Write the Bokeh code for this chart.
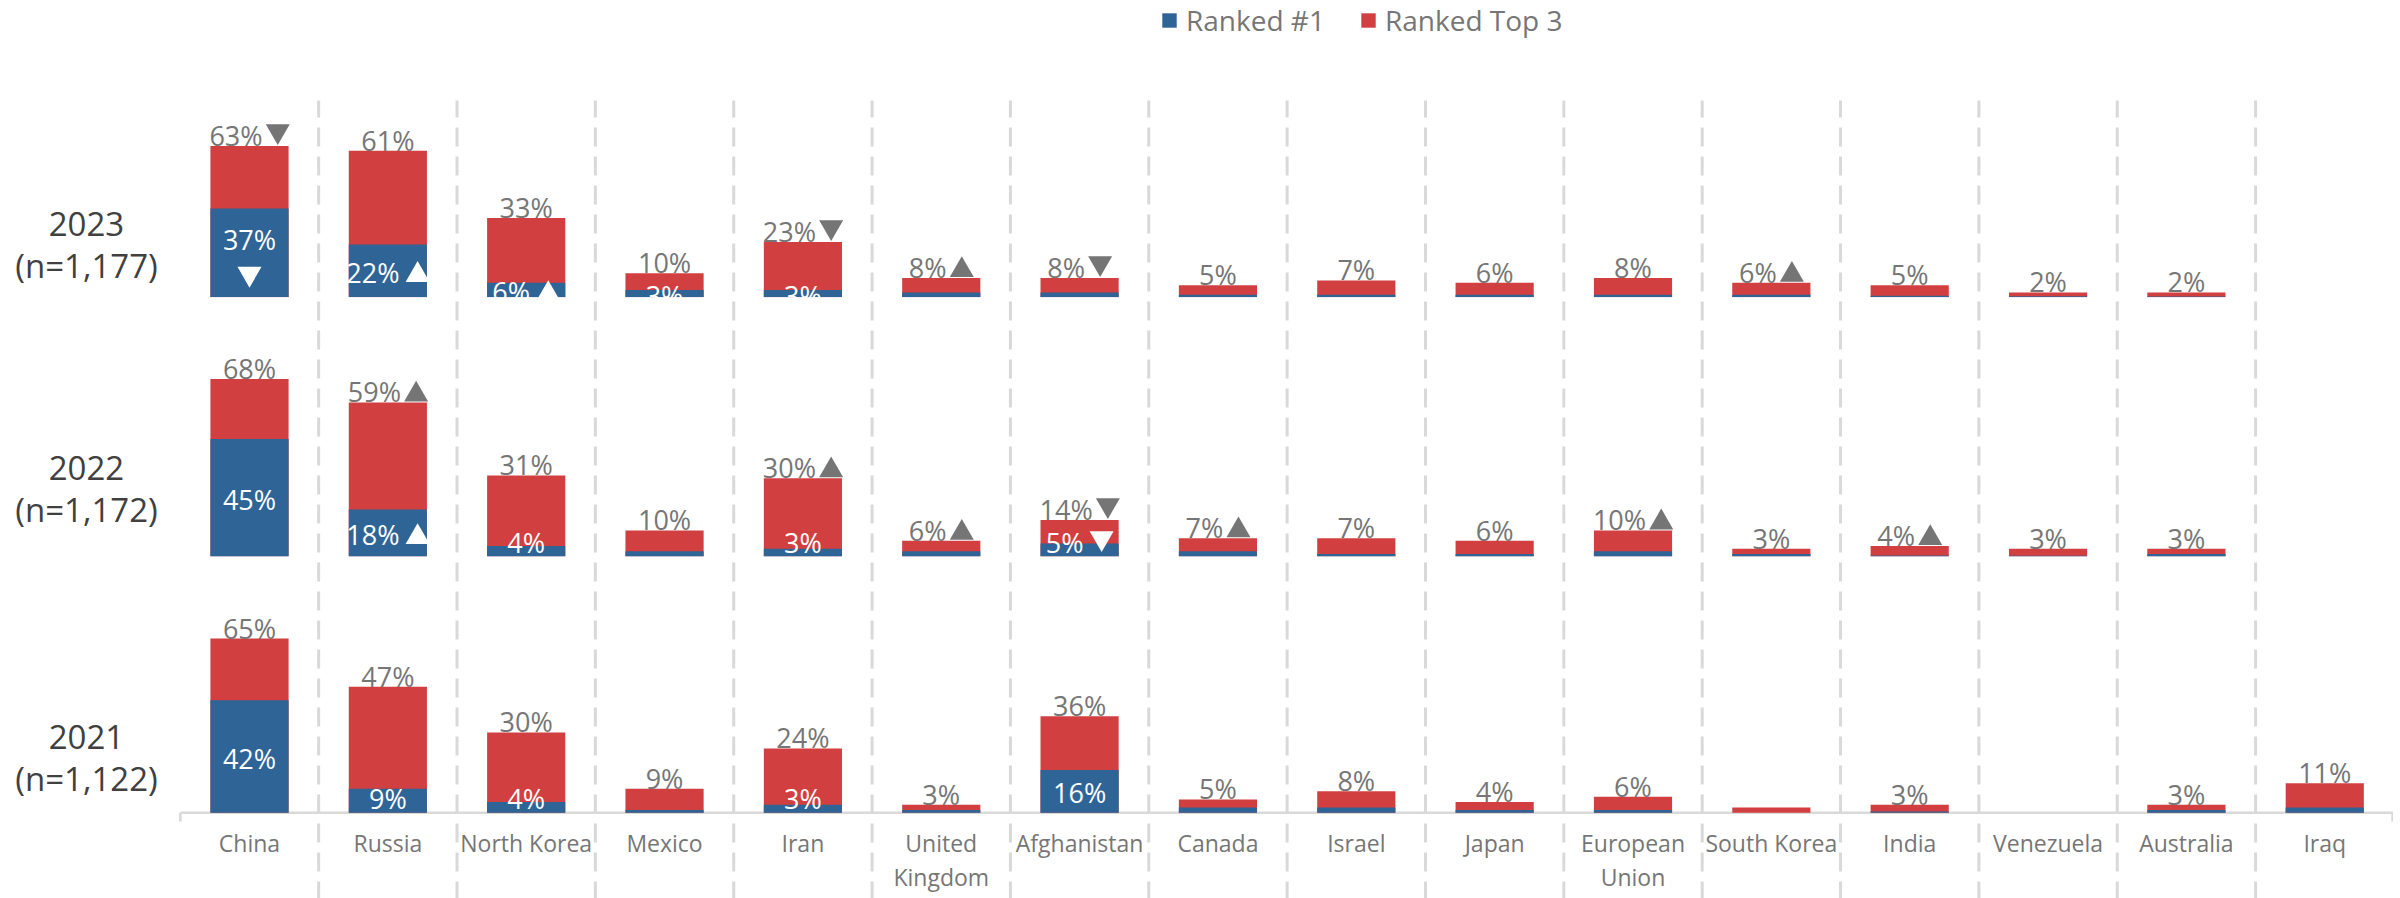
from bokeh.plotting import figure
from bokeh.models import Range1d, ColumnDataSource, Legend, LegendItem
from bokeh.embed import file_html
from bokeh.resources import INLINE
from bokeh.core.properties import value

# ---------------- data ----------------
categories = ["China", "Russia", "North Korea", "Mexico", "Iran", "United Kingdom",
              "Afghanistan", "Canada", "Israel", "Japan", "European Union",
              "South Korea", "India", "Venezuela", "Australia", "Iraq"]
category_labels = ["China", "Russia", "North Korea", "Mexico", "Iran", "United\nKingdom",
                   "Afghanistan", "Canada", "Israel", "Japan", "European\nUnion",
                   "South Korea", "India", "Venezuela", "Australia", "Iraq"]
years = ["2023", "2022", "2021"]
sample_sizes = ["(n=1,177)", "(n=1,172)", "(n=1,122)"]

top3_2023 = [63, 61, 33, 10, 23, 8, 8, 5, 7, 6, 8, 6, 5, 2, 2, None]
first_2023 = [37, 22, 6, 3, 3, 2, 2, 1, 1, 1, 1, 1, 0.6, 0.4, 0.3, None]
top3_trend_2023 = ["down", "", "", "", "down", "up", "down", "", "", "", "", "up", "", "", "", ""]
first_shown_2023 = [True, True, True, True, True] + [False] * 11
first_trend_2023 = ["down", "up", "up", "", ""] + [""] * 11

top3_2022 = [68, 59, 31, 10, 30, 6, 14, 7, 7, 6, 10, 3, 4, 3, 3, None]
first_2022 = [45, 18, 4, 2, 3, 2, 5, 2, 1, 1, 2, 1, 0.4, 0.3, 1, None]
top3_trend_2022 = ["", "up", "", "", "up", "up", "down", "up", "", "", "up", "", "up", "", "", ""]
first_shown_2022 = [True, True, True, False, True, False, True] + [False] * 9
first_trend_2022 = ["", "up", "", "", "", "", "down"] + [""] * 9

top3_2021 = [65, 47, 30, 9, 24, 3, 36, 5, 8, 4, 6, 2, 3, None, 3, 11]
first_2021 = [42, 9, 4, 1, 3, 1, 16, 2, 2, 1, 1, 0, 0.5, None, 1, 2]
top3_shown_2021 = [True] * 11 + [False] + [True] * 4
first_shown_2021 = [True, True, True, False, True, False, True] + [False] * 9

top3_rows = [top3_2023, top3_2022, top3_2021]
first_rows = [first_2023, first_2022, first_2021]
top3_trend_rows = [top3_trend_2023, top3_trend_2022, [""] * 16]
top3_shown_rows = [[True] * 16, [True] * 16, top3_shown_2021]
first_shown_rows = [first_shown_2023, first_shown_2022, first_shown_2021]
first_trend_rows = [first_trend_2023, first_trend_2022, [""] * 16]

# ---------------- style / layout ----------------
BLUE = "#2F6496"
RED = "#D13F40"
GRAY_TXT = "#767676"
DARK_TXT = "#404040"
ARROW_GRAY = "#757575"
SEP = "#D9D9D9"
FONT = value("Open Sans")

W, H = 2393, 898
PAGE_X0, PAGE_Y0 = 0, 0
CAT_W = 138.35
FIRST_CX = 249.0
BASE_Y = [296.7, 556.0, 812.3]      # page y of 0% for each row
PX_PER_PCT = [2.40, 2.61, 2.68]     # pixels per percentage point for each row
BAR_W = 0.565
LBL_PX = 27                         # value label font size
HALF_DIGIT = 9.6
ARROW_SIZE = 24
ARROW_H = ARROW_SIZE / 2 * 3 ** 0.5


def px_to_x(px):
    return (px - FIRST_CX) / CAT_W


def py_to_y(r, py):
    return (BASE_Y[r] - py) / PX_PER_PCT[r]


def text_w(s):
    return sum(0.838 if ch == "%" else 0.572 for ch in s) * LBL_PX


p = figure(width=W, height=H, output_backend="svg", toolbar_location=None,
           x_range=Range1d(px_to_x(PAGE_X0), px_to_x(PAGE_X0 + W)),
           y_range=Range1d(0, 1), x_axis_type=None, y_axis_type=None,
           min_border=0, outline_line_color=None, background_fill_color="white",
           border_fill_color="white")
p.grid.visible = False

for r in range(3):
    p.extra_y_ranges[f"r{r}"] = Range1d(py_to_y(r, PAGE_Y0 + H), py_to_y(r, PAGE_Y0))

# axis line of bottom row
p.segment(x0=[-0.5], x1=[15.5], y0=[0], y1=[0], line_color=SEP, line_width=2.5,
          y_range_name="r2")
p.segment(x0=[-0.5, 15.49], x1=[-0.5, 15.49], y0=[0, 0],
          y1=[py_to_y(2, 821), py_to_y(2, 821)], line_color=SEP, line_width=2.5,
          y_range_name="r2")

legend_renderers = {}
for r in range(3):
    s = PX_PER_PCT[r]
    top3 = top3_rows[r]
    first = first_rows[r]
    xs = [i for i, v in enumerate(top3) if v is not None]
    src = ColumnDataSource(dict(x=xs, top3=[top3[i] for i in xs],
                                first=[first[i] for i in xs]))
    red = p.vbar(x="x", top="top3", bottom=0, width=BAR_W, source=src,
                 fill_color=RED, line_color=None, y_range_name=f"r{r}")
    blue = p.vbar(x="x", top="first", bottom=0, width=BAR_W, source=src,
                  fill_color=BLUE, line_color=None, y_range_name=f"r{r}")
    if r == 0:
        legend_renderers["blue"] = blue
        legend_renderers["red"] = red

    arrows = dict(x=[], y=[], m=[], c=[])

    # top-3 labels
    lx, ly, lt, lxo = [], [], [], []
    for i in xs:
        if not top3_shown_rows[r][i]:
            continue
        txt = f"{top3[i]}%"
        trend = top3_trend_rows[r][i]
        gap = 3
        xo = 0
        if trend:
            tw = text_w(txt)
            xo = -(gap + ARROW_SIZE) / 2
            ax_px = (tw + gap) / 2
            base_px = 1  # digit baseline above bar top
            cy = base_px + (ARROW_H / 3 if trend == "up" else 2 * ARROW_H / 3)
            arrows["x"].append(i + ax_px / CAT_W)
            arrows["y"].append(top3[i] + cy / s)
            arrows["m"].append("triangle" if trend == "up" else "inverted_triangle")
            arrows["c"].append(ARROW_GRAY)
        lx.append(i)
        ly.append(top3[i])
        lt.append(txt)
        lxo.append(xo)
    p.text(x=lx, y=ly, text=lt, text_font=FONT, text_font_size=f"{LBL_PX}px",
           text_color=GRAY_TXT, text_align="center", text_baseline="middle",
           x_offset=lxo, y_offset=-(1 + HALF_DIGIT), y_range_name=f"r{r}")

    # #1 labels inside blue bars
    ix, iy, it, ixo, iyo = [], [], [], [], []
    for i in xs:
        if not first_shown_rows[r][i]:
            continue
        txt = f"{first[i]}%"
        trend = first_trend_rows[r][i]
        half_px = first[i] * s / 2
        xo = 0
        if trend and first[i] >= 30:
            d = half_px + 13
            arrows["x"].append(i)
            arrows["y"].append(first[i] / 2 - 21 / s)
            arrows["m"].append("triangle" if trend == "up" else "inverted_triangle")
            arrows["c"].append("white")
        else:
            d = half_px - 1.5
            if r > 0:
                d = max(d, 14)
            if trend:
                gap = 6
                tw = text_w(txt)
                xo = -(gap + ARROW_SIZE) / 2
                ax_px = (tw + gap) / 2
                base_px = d - HALF_DIGIT
                cy = base_px + (ARROW_H / 3 if trend == "up" else 2 * ARROW_H / 3)
                arrows["x"].append(i + ax_px / CAT_W)
                arrows["y"].append(cy / s)
                arrows["m"].append("triangle" if trend == "up" else "inverted_triangle")
                arrows["c"].append("white")
        ix.append(i)
        iy.append(first[i] / 2)
        it.append(txt)
        ixo.append(xo)
        iyo.append(half_px - d)
    p.text(x=ix, y=iy, text=it, text_font=FONT, text_font_size=f"{LBL_PX}px",
           text_color="white", text_align="center", text_baseline="middle",
           x_offset=ixo, y_offset=iyo, y_range_name=f"r{r}")

    p.scatter(x="x", y="y", marker="m", fill_color="c", source=ColumnDataSource(arrows),
              size=ARROW_SIZE, line_color=None, y_range_name=f"r{r}")

    # the upper panels clip their labels at the plot-area bottom
    if r < 2:
        p.quad(left=[-0.5], right=[15.5], top=[0], bottom=[-16 / s],
               fill_color="white", line_color=None, y_range_name=f"r{r}")

    # row label
    p.text(x=[px_to_x(86)], y=[py_to_y(r, [244, 488, 757][r])],
           text=[years[r] + "\n" + sample_sizes[r]], text_font=FONT,
           text_font_size="33px", text_color=DARK_TXT, text_align="center",
           text_baseline="middle", text_line_height=0.94, y_range_name=f"r{r}")

# dashed separators between categories
bx = [i + 0.5 for i in range(15)]
p.segment(x0=bx, x1=bx, y0=[py_to_y(2, 900)] * 15, y1=[py_to_y(2, 100)] * 15,
          line_color=SEP, line_width=3, line_dash="19 10", y_range_name="r2")

# category labels
p.text(x=list(range(16)), y=[py_to_y(2, 826)] * 16, text=category_labels,
       text_font=FONT, text_font_size="23px", text_color=GRAY_TXT,
       text_align="center", text_baseline="top", text_line_height=1.09,
       y_range_name="r2")

legend = Legend(items=[LegendItem(label="Ranked #1", renderers=[legend_renderers["blue"]]),
                       LegendItem(label="Ranked Top 3", renderers=[legend_renderers["red"]])],
                orientation="horizontal", location=(1160, H - 39),
                border_line_color=None, background_fill_alpha=0,
                label_text_font="Open Sans", label_text_font_size="28px",
                label_text_color=GRAY_TXT, glyph_width=18, glyph_height=18,
                padding=0, margin=0, spacing=34, label_standoff=8)
p.add_layout(legend)

open("out.html", "w").write(file_html(p, INLINE))
